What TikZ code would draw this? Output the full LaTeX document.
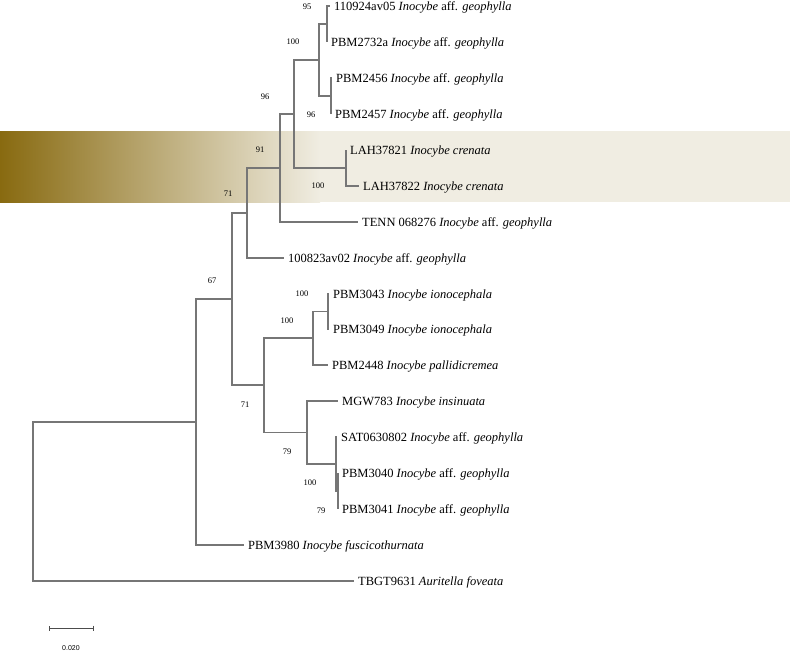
\documentclass[tikz,border=0pt]{standalone}
\usepackage{fontspec}
\setmainfont{Liberation Serif}
\newfontfamily\barfont{Liberation Sans}
\usetikzlibrary{arrows.meta}
\definecolor{branch}{RGB}{118,118,118}
\definecolor{bandlo}{RGB}{136,106,16}
\definecolor{bandhi}{RGB}{240,237,226}
\tikzset{
  taxon/.style={anchor=base west,inner sep=0pt,xshift=4pt,yshift=-4.3pt,font=\fontsize{12.5}{14}\selectfont},
  boot/.style={inner sep=0pt,font=\fontsize{8.5}{10}\selectfont},
  twig/.style={draw=branch,line width=1.1pt},
}
\begin{document}
\begin{tikzpicture}[x=1pt,y=-1pt]
\useasboundingbox (0,0) rectangle (792,653);
% crenata band
\fill[bandhi] (318,131) rectangle (790,202);
\shade[left color=bandlo,right color=bandhi] (0,131) rectangle (320,202);
% tips
\foreach \n/\x/\y/\lab in {
  a1/330/6/110924av05 \emph{Inocybe} aff. \emph{geophylla},
  a2/327/42/PBM2732a \emph{Inocybe} aff. \emph{geophylla},
  a3/332/78/PBM2456 \emph{Inocybe} aff. \emph{geophylla},
  a4/331/114/PBM2457 \emph{Inocybe} aff. \emph{geophylla},
  a5/346/150/LAH37821 \emph{Inocybe crenata},
  a6/359/186/LAH37822 \emph{Inocybe crenata},
  a7/358/222/TENN 068276 \emph{Inocybe} aff. \emph{geophylla},
  a8/284/258/100823av02 \emph{Inocybe} aff. \emph{geophylla},
  a9/329/294/PBM3043 \emph{Inocybe ionocephala},
  a10/329/329/PBM3049 \emph{Inocybe ionocephala},
  a11/328/365/PBM2448 \emph{Inocybe pallidicremea},
  a12/338/401/MGW783 \emph{Inocybe insinuata},
  a13/337/437/SAT0630802 \emph{Inocybe} aff. \emph{geophylla},
  a14/338/473/PBM3040 \emph{Inocybe} aff. \emph{geophylla},
  a15/338/509/PBM3041 \emph{Inocybe} aff. \emph{geophylla},
  a16/244/545/PBM3980 \emph{Inocybe fuscicothurnata},
  a17/354/581/TBGT9631 \emph{Auritella foveata}} {
  \coordinate (\n) at (\x,\y);
  \node[taxon] (\n-txt) at (\n) {\lab};
}
% inner nodes
\foreach \n/\x/\y in {n327/327/24, n331/331/96, n319/319/60, n346/346/168,
  n294/294/114, n280/280/168, n247/247/213, n328/328/311.5, n313/313/338,
  n337/338/491, n336/336/464, n307/307/432.5, n264/264/385, n232/232/299,
  n196/196/422, root/33/501.5}
  \coordinate (\n) at (\x,\y);
\foreach \p/\c in {n327/a1, n327/a2, n331/a3, n331/a4, n319/n327, n319/n331,
  n346/a5, n346/a6, n294/n319, n294/n346, n280/n294, n280/a7, n247/n280,
  n247/a8, n328/a9, n328/a10, n313/n328, n313/a11, n337/a14, n337/a15,
  n336/a13, n336/n337, n307/a12, n307/n336, n264/n313, n264/n307,
  n232/n247, n232/n264, n196/n232, n196/a16, root/n196, root/a17}
  \draw[twig] (\p) |- (\c);
% bootstrap values
\foreach \n/\x/\y/\v in {b1/307/7/95, b2/293/42/100, b3/265/97/96, b4/311/115/96,
  b5/260/150/91, b6/318/186/100, b7/228/194/71, b8/212/281/67, b9/302/294/100,
  b10/287/321/100, b11/245/405/71, b12/287/452/79, b13/310/483/100, b14/321/511/79}
  \node[boot] (\n) at (\x,\y) {\v};
% scale
\coordinate (bar-l) at (49,628);
\coordinate (bar-r) at (94,628);
\draw[{Bar[width=5pt]}-{Bar[width=5pt]},line width=0.9pt,draw=black!70] (bar-l) -- (bar-r);
\node[inner sep=0pt,font=\barfont\fontsize{7}{8}\selectfont] (bar-txt) at (71,648) {0.020};
\end{tikzpicture}
\end{document}
